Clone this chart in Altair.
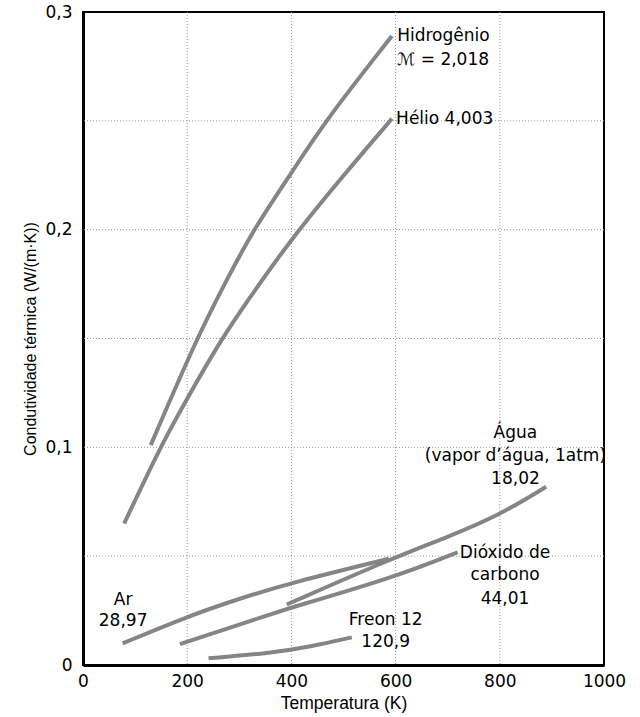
import altair as alt
import pandas as pd

# ---- curve data (T in K, k in W/(m.K)) ----
hydrogen_T = [130, 218, 276, 327, 400, 465, 593]
hydrogen_k = [0.101, 0.150, 0.177, 0.200, 0.226, 0.250, 0.289]

helium_T = [79, 148, 194, 266, 318, 394, 500, 593]
helium_k = [0.065, 0.100, 0.120, 0.150, 0.168, 0.194, 0.225, 0.251]

argon_T = [76, 198, 300, 400, 587]
argon_k = [0.0099, 0.0221, 0.0305, 0.0378, 0.0488]

co2_T = [186, 378, 400, 600, 719]
co2_k = [0.0096, 0.0247, 0.0264, 0.0405, 0.0518]

water_T = [391, 600, 699, 800, 889]
water_k = [0.0278, 0.0497, 0.0587, 0.0689, 0.0819]

freon_T = [241, 359, 436, 516]
freon_k = [0.0031, 0.0054, 0.0084, 0.0127]

# ---- annotation labels (anchor in data units) ----
label_text = ["Hidrogênio", "\u2133 = 2,018", "Hélio 4,003",
              "Água", "(vapor d\u2019água, 1atm)", "18,02",
              "Dióxido de", "carbono", "44,01",
              "Freon 12", "120,9",
              "Ar", "28,97"]
label_T = [603, 603, 601, 830, 830, 830, 810, 810, 810, 581, 581, 77, 77]
label_k = [0.289, 0.278, 0.2507, 0.1066, 0.0961, 0.0855,
           0.0514, 0.0412, 0.0305, 0.0206, 0.0107, 0.0297, 0.0201]
label_align = ["left", "left", "left", "center", "center", "center",
               "center", "center", "center", "center", "center", "center", "center"]

x_ticks = [0, 200, 400, 600, 800, 1000]
y_ticks = [0, 0.1, 0.2, 0.3]
grid_x = [200, 400, 600, 800]
grid_y = [0.05, 0.1, 0.15, 0.2, 0.25]

series = [("H2", hydrogen_T, hydrogen_k), ("He", helium_T, helium_k),
          ("Ar", argon_T, argon_k), ("CO2", co2_T, co2_k),
          ("H2O", water_T, water_k), ("Freon", freon_T, freon_k)]
rows = []
for name, ts, ks in series:
    for i, (t, k) in enumerate(zip(ts, ks)):
        rows.append({"gas": name, "T": t, "k": k, "order": i})
df = pd.DataFrame(rows)

labels = pd.DataFrame({"text": label_text, "T": label_T, "k": label_k, "align": label_align})

x_scale = alt.Scale(domain=[0, 1000], nice=False, zero=False)
y_scale = alt.Scale(domain=[0, 0.3], nice=False, zero=False)

TICK_FONT = "DejaVu Sans"
TITLE_FONT = "Liberation Sans"
LABEL_FONT = "DejaVu Sans"

gx = alt.Chart(pd.DataFrame({"T": grid_x})).mark_rule(
    color="#9a9a9a", strokeWidth=1, strokeDash=[1, 2]
).encode(x=alt.X("T:Q", scale=x_scale))

gy = alt.Chart(pd.DataFrame({"k": grid_y})).mark_rule(
    color="#9a9a9a", strokeWidth=1, strokeDash=[1, 2]
).encode(y=alt.Y("k:Q", scale=y_scale))

lines = alt.Chart(df).mark_line(
    color="#858585", strokeWidth=4, interpolate="basis", strokeCap="butt"
).encode(
    x=alt.X("T:Q", scale=x_scale,
            axis=alt.Axis(title="Temperatura (K)", values=x_ticks, format="d",
                          grid=False, ticks=False, domainColor="black", domainWidth=3,
                          labelFont=TICK_FONT, labelFontSize=17, labelColor="black",
                          labelPadding=8, titleFont=TITLE_FONT, titleFontSize=17.5,
                          titleFontWeight="normal", titleColor="black", titlePadding=5,
                          labelFlush=False)),
    y=alt.Y("k:Q", scale=y_scale,
            axis=alt.Axis(title="Condutividade térmica (W/(m·K))", values=y_ticks,
                          labelExpr="datum.value == 0 ? '0' : replace(format(datum.value, '.1f'), '.', ',')",
                          grid=False, ticks=False, domainColor="black", domainWidth=3,
                          labelFont=TICK_FONT, labelFontSize=17, labelColor="black",
                          labelPadding=11, titleFont=TITLE_FONT, titleFontSize=16,
                          titleFontWeight="normal", titleColor="black", titlePadding=6,
                          labelFlush=False)),
    detail="gas:N",
    order="order:Q",
)

text_left = alt.Chart(labels[labels["align"] == "left"]).mark_text(
    align="left", baseline="middle", font=LABEL_FONT, fontSize=17, color="black"
).encode(x=alt.X("T:Q", scale=x_scale), y=alt.Y("k:Q", scale=y_scale), text="text:N")

text_center = alt.Chart(labels[labels["align"] == "center"]).mark_text(
    align="center", baseline="middle", font=LABEL_FONT, fontSize=17, color="black"
).encode(x=alt.X("T:Q", scale=x_scale), y=alt.Y("k:Q", scale=y_scale), text="text:N")

chart = alt.layer(gx, gy, lines, text_left, text_center).properties(
    width=521, height=653,
    autosize=alt.AutoSizeParams(type="none"),
    padding={"left": 83, "top": 12, "right": 36, "bottom": 52},
    background="white",
).configure_view(stroke="black", strokeWidth=2)

chart.save("out.html", embed_options={"renderer": "svg", "actions": False})
